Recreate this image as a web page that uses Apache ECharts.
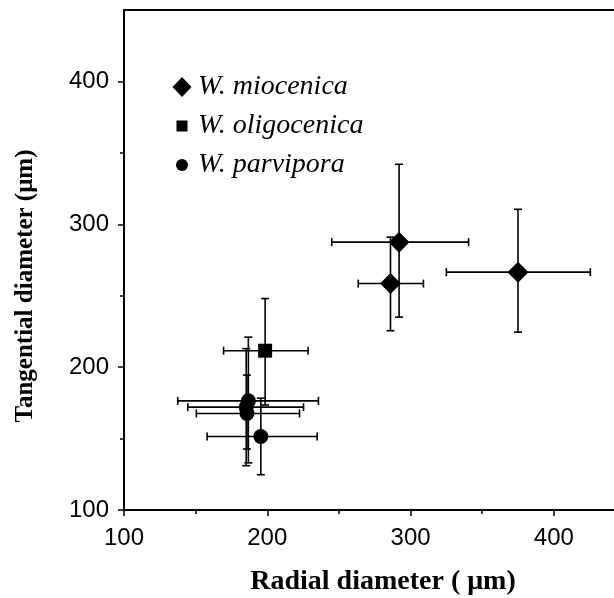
<!DOCTYPE html>
<html>
<head>
<meta charset="utf-8">
<script src="https://cdn.jsdelivr.net/npm/echarts@6/dist/echarts.min.js"></script>
<style>
  html, body { margin: 0; padding: 0; background: #fff; }
  #chart { width: 614px; height: 598px; }
</style>
</head>
<body>
<div id="chart"></div>
<script>
// tick values
var majorTicks = [100, 200, 300, 400];
var minorTicks = [150, 250, 350];

// W. miocenica
var mioX = [292, 286, 375];
var mioY = [287.5, 258.5, 266.5];
var mioXLo = [245, 263.5, 325];
var mioXHi = [340.5, 309, 425.5];
var mioYLo = [235, 225.5, 224.5];
var mioYHi = [342, 291, 310.5];

// W. oligocenica
var oliX = [198.5];
var oliY = [211.5];
var oliXLo = [169.5];
var oliXHi = [228.5];
var oliYLo = [173.5];
var oliYHi = [248];

// W. parvipora
var parX = [186.8, 185.3, 185.8, 195.5];
var parY = [176.4, 172, 167.6, 151.5];
var parXLo = [137.5, 144.5, 150.5, 158];
var parXHi = [235.7, 225.3, 222.5, 234.8];
var parYLo = [133, 131, 142.7, 124.7];
var parYHi = [221, 213, 194.4, 178.3];

function rows(x, y, xl, xh, yl, yh) {
    var out = [];
    for (var i = 0; i < x.length; i++) {
        out.push([x[i], y[i], xl[i], xh[i], yl[i], yh[i]]);
    }
    return out;
}
function points(x, y) {
    var out = [];
    for (var i = 0; i < x.length; i++) out.push([x[i], y[i]]);
    return out;
}

function errorBars(params, api) {
    var x = api.value(0), y = api.value(1);
    var l = api.coord([api.value(2), y]);
    var r = api.coord([api.value(3), y]);
    var b = api.coord([x, api.value(4)]);
    var t = api.coord([x, api.value(5)]);
    var cap = 4;
    var style = { stroke: '#000', lineWidth: 1.6, fill: null };
    function seg(x1, y1, x2, y2) {
        return { type: 'line', shape: { x1: x1, y1: y1, x2: x2, y2: y2 }, style: style };
    }
    return {
        type: 'group',
        children: [
            seg(l[0], l[1], r[0], r[1]),
            seg(l[0], l[1] - cap, l[0], l[1] + cap),
            seg(r[0], r[1] - cap, r[0], r[1] + cap),
            seg(b[0], b[1], t[0], t[1]),
            seg(b[0] - cap, b[1], b[0] + cap, b[1]),
            seg(t[0] - cap, t[1], t[0] + cap, t[1])
        ]
    };
}

var labelFont = { fontFamily: 'Liberation Sans', fontSize: 24, color: '#000' };
var titleFont = { fontFamily: 'Liberation Serif', fontWeight: 'bold', color: '#000' };
var X_MAX = 442;

var chart = echarts.init(document.getElementById('chart'), null, { renderer: 'canvas' });
var option = {
    animation: false,
    backgroundColor: '#fff',
    grid: { left: 124, right: 0, top: 10, bottom: 88, outerBoundsMode: 'none', containLabel: false },
    legend: {
        orient: 'vertical',
        left: 171, top: 73, padding: 0,
        itemWidth: 22, itemHeight: 22, itemGap: 11,
        textStyle: { fontFamily: 'Liberation Serif', fontStyle: 'italic', fontSize: 28, lineHeight: 28, color: '#000' },
        data: [
            { name: 'W. miocenica', icon: 'path://M0,0M22,22M11,1L20.5,11L11,21L1.5,11Z' },
            { name: 'W. oligocenica', icon: 'path://M0,0M22,22M5.5,5.5L16.5,5.5L16.5,16.5L5.5,16.5Z' },
            { name: 'W. parvipora', icon: 'path://M0,0M22,22M17,11A6,6,0,1,1,5,11A6,6,0,1,1,17,11Z' }
        ]
    },
    xAxis: [{
        type: 'value', min: 100, max: X_MAX, interval: 100,
        name: 'Radial diameter ( μm)', nameLocation: 'middle', nameGap: 58,
        nameTextStyle: Object.assign({ fontSize: 28, padding: [0, 0, 0, 28] }, titleFont),
        axisLine: { lineStyle: { color: '#000', width: 2 } },
        axisTick: { customValues: majorTicks, length: 6, lineStyle: { color: '#000', width: 1.5 } },
        axisLabel: Object.assign({ customValues: majorTicks, margin: 16 }, labelFont),
        splitLine: { show: false }
    }, {
        type: 'value', min: 100, max: X_MAX, position: 'bottom',
        axisLine: { show: false },
        axisTick: { customValues: minorTicks, length: 4, lineStyle: { color: '#000', width: 1.5 } },
        axisLabel: { show: false },
        splitLine: { show: false }
    }, {
        type: 'value', min: 100, max: X_MAX, position: 'top',
        axisLine: { lineStyle: { color: '#000', width: 2 } },
        axisTick: { show: false },
        axisLabel: { show: false },
        splitLine: { show: false }
    }],
    yAxis: [{
        type: 'value', min: 100, max: 450, interval: 100,
        name: 'Tangential diameter (μm)', nameLocation: 'middle', nameGap: 86,
        nameTextStyle: Object.assign({ fontSize: 25, padding: [0, 52, 0, 0] }, titleFont),
        axisLine: { lineStyle: { color: '#000', width: 2 } },
        axisTick: { customValues: majorTicks, length: 6, lineStyle: { color: '#000', width: 1.5 } },
        axisLabel: Object.assign({ customValues: majorTicks, margin: 15 }, labelFont),
        splitLine: { show: false }
    }, {
        type: 'value', min: 100, max: 450, position: 'left',
        axisLine: { show: false },
        axisTick: { customValues: minorTicks, length: 4, lineStyle: { color: '#000', width: 1.5 } },
        axisLabel: { show: false },
        splitLine: { show: false }
    }],
    series: [
        { name: 'mio-err', type: 'custom', renderItem: errorBars, encode: { x: 0, y: 1 },
          data: rows(mioX, mioY, mioXLo, mioXHi, mioYLo, mioYHi), z: 1 },
        { name: 'oli-err', type: 'custom', renderItem: errorBars, encode: { x: 0, y: 1 },
          data: rows(oliX, oliY, oliXLo, oliXHi, oliYLo, oliYHi), z: 1 },
        { name: 'par-err', type: 'custom', renderItem: errorBars, encode: { x: 0, y: 1 },
          data: rows(parX, parY, parXLo, parXHi, parYLo, parYHi), z: 1 },
        { name: 'W. miocenica', type: 'scatter', symbol: 'diamond', symbolSize: 21,
          itemStyle: { color: '#000', opacity: 1 }, data: points(mioX, mioY), z: 3 },
        { name: 'W. oligocenica', type: 'scatter', symbol: 'rect', symbolSize: 14,
          itemStyle: { color: '#000', opacity: 1 }, data: points(oliX, oliY), z: 3 },
        { name: 'W. parvipora', type: 'scatter', symbol: 'circle', symbolSize: 15,
          itemStyle: { color: '#000', opacity: 1 }, data: points(parX, parY), z: 3 }
    ]
};
chart.setOption(option);
</script>
</body>
</html>
